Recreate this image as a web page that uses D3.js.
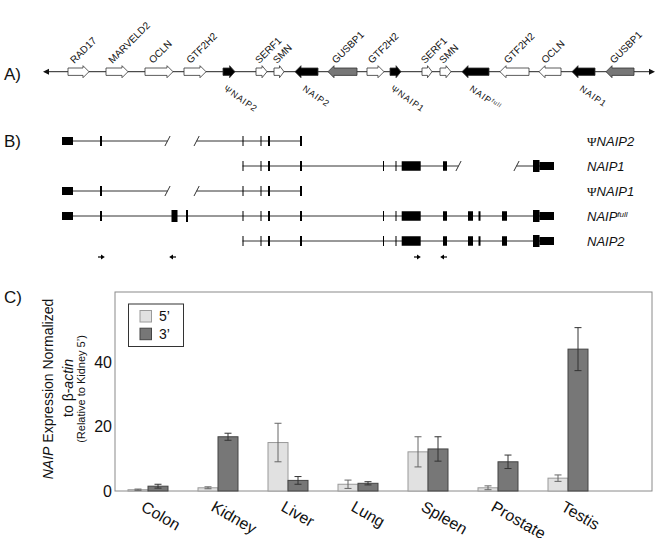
<!DOCTYPE html>
<html><head><meta charset="utf-8">
<script src="https://cdn.jsdelivr.net/npm/d3@7"></script>
<style>
body{margin:0;background:#fff}
svg{display:block;font-family:"Liberation Sans",Arial,sans-serif}
</style>
</head><body>
<svg id="fig" width="661" height="538"></svg>
<script>
// ---------- Panel A: genomic map (map units along the locus) ----------
const geneNames  = ["RAD17","MARVELD2","OCLN","GTF2H2","ΨNAIP2","SERF1","SMN","NAIP2","GUSBP1","GTF2H2","ΨNAIP1","SERF1","SMN","NAIPfull","GTF2H2","OCLN","NAIP1","GUSBP1"];
const geneStart  = [25, 63, 102, 141, 180, 213, 231, 252, 285, 324, 347, 379, 397, 419, 457, 496, 529, 563];
const geneEnd    = [46, 85, 130, 163, 192, 224, 241, 275, 314, 341, 358, 389, 408, 446, 486, 518, 552, 591];
const geneStrand = [1, 1, 1, 1, 1, 1, 1, -1, -1, 1, 1, 1, 1, -1, -1, -1, -1, -1];
const geneClass  = ["o","o","o","o","n","o","o","n","g","o","n","o","o","n","o","o","n","g"];
const locusExtent = [0, 612];

// ---------- Panel B: transcript structures (map units) ----------
const exonStart = [0, 38, 109.5, 124, 180.5, 198.5, 206, 238, 321, 333.5, 339.7, 381, 406, 416.5, 440, 471, 477.5];
const exonEnd   = [11, 40, 115.5, 126, 181.5, 199.5, 208, 240, 322, 334.5, 358.7, 385, 411, 418.5, 445, 477.5, 492];
const exonKind  = ["u","t","L","L","t","t","t","t","t","t","b","b","b","b","b","L","u"];
const transcriptNames = ["ΨNAIP2","NAIP1","ΨNAIP1","NAIPfull","NAIP2"];
const transcriptExons = [
  [0,1,4,5,6,7],
  [4,5,6,7,8,9,10,11,15,16],
  [0,1,4,5,6,7],
  [0,1,2,3,4,5,6,7,8,9,10,11,12,13,14,15,16],
  [4,5,6,7,8,9,10,11,12,13,14,15,16]
];
const transcriptSpan = [[0,240],[180.5,492],[0,240],[0,492],[180.5,492]];
const transcriptGap  = [[105.5,134.6],[396.5,454.5],[105.5,134.6],null,null];
const primerPos = [39, 111, 355, 382];
const primerDir = [1, -1, 1, -1];
const transcriptExtent = [0, 500];

// ---------- Panel C: expression bar chart ----------
const categories = ["Colon","Kidney","Liver","Lung","Spleen","Prostate","Testis"];
const seriesNames = ["5’","3’"];
const values5 = [0.4, 1.0, 15.1, 2.1, 12.2, 1.0, 4.0];
const err5    = [0.2, 0.3, 6.0, 1.3, 4.7, 0.6, 1.0];
const values3 = [1.5, 16.9, 3.3, 2.4, 13.1, 9.1, 44.2];
const err3    = [0.6, 1.1, 1.2, 0.5, 3.8, 2.1, 6.7];
const yTicks  = [0, 20, 40];
const yMax = 62;

const svg = d3.select("#fig");

function writeLabel(sel, name, opts) {
  let rest = name;
  if (rest.startsWith("Ψ")) {
    sel.append("tspan").attr("font-family", opts.psiFont || null).attr("font-style","normal").text("Ψ");
    rest = rest.slice(1);
  }
  if (rest.endsWith("full")) {
    sel.append("tspan").attr("font-style", opts.italic ? "italic" : "normal").text(rest.slice(0,-4));
    sel.append("tspan").attr("font-size", opts.supSize).attr("dy", opts.supDy).attr("font-style", opts.italic ? "italic":"normal").text("full");
  } else {
    sel.append("tspan").attr("font-style", opts.italic ? "italic" : "normal").text(rest);
  }
}

// ===== Panel labels =====
[["A)",80],["B)",147],["C)",303]].forEach(([t,yy]) => {
  svg.append("text").attr("x",4).attr("y",yy).attr("font-size",17).attr("fill","#111").text(t);
});

// ===== Panel A =====
const xA = d3.scaleLinear().domain(locusExtent).range([43, 655]);
const yA = 71.7;
const gA = svg.append("g");
gA.append("line").attr("x1", xA(locusExtent[0])+4).attr("x2", xA(locusExtent[1])-4)
  .attr("y1", yA).attr("y2", yA).attr("stroke","#222").attr("stroke-width",1);
gA.append("path").attr("d", `M${xA(locusExtent[0])},${yA}l6,-3v6z`).attr("fill","#111");
gA.append("path").attr("d", `M${xA(locusExtent[1])},${yA}l-6,-3v6z`).attr("fill","#111");

function geneArrow(a, b, dir, yy) {
  const h = 3.7, H = 6, head = Math.min(6, (b-a)*0.45);
  if (dir > 0) return `M${a},${yy-h}L${b-head},${yy-h}L${b-head},${yy-H}L${b},${yy}L${b-head},${yy+H}L${b-head},${yy+h}L${a},${yy+h}Z`;
  return `M${b},${yy-h}L${a+head},${yy-h}L${a+head},${yy-H}L${a},${yy}L${a+head},${yy+H}L${a+head},${yy+h}L${b},${yy+h}Z`;
}
const fillA = {o:"#fff", n:"#000", g:"#777"};
const genes = geneNames.map((n,i)=>({name:n, s:geneStart[i], e:geneEnd[i], dir:geneStrand[i], cls:geneClass[i]}));
gA.selectAll("path.gene").data(genes).join("path").attr("class","gene")
  .attr("d", d => geneArrow(xA(d.s), xA(d.e), d.dir, yA))
  .attr("fill", d => fillA[d.cls]).attr("stroke","#333").attr("stroke-width",0.8);

genes.filter(d => d.cls !== "n").forEach(d => {
  const w = xA(d.e) - xA(d.s);
  const x = xA(d.s) + Math.min(8, w*0.3);
  gA.append("text").attr("transform", `translate(${x},64) rotate(-45)`)
    .attr("font-size", 10).attr("fill","#111").text(d.name);
});
genes.filter(d => d.cls === "n").forEach(d => {
  const x = xA(d.s) + (d.dir > 0 ? 0 : 7);
  const t = gA.append("text").attr("transform", `translate(${x},90) rotate(35)`)
    .attr("font-size", 9).attr("letter-spacing", 0.9).attr("fill","#111");
  writeLabel(t, d.name, {italic:false, supSize:6, supDy:-3});
});

// ===== Panel B =====
const xB = d3.scaleLinear().domain(transcriptExtent).range([62, 562]);
const yB = d3.scalePoint().domain(transcriptNames).range([141, 241]);
const exonH = {u:8, t:10, b:9.5, L:12};
const gB = svg.append("g");
transcriptNames.forEach((name, r) => {
  const yy = yB(name);
  const [s, e] = transcriptSpan[r];
  const gap = transcriptGap[r];
  const lineSegs = gap ? [[s, gap[0]], [gap[1], e]] : [[s, e]];
  lineSegs.forEach(([a,b]) => {
    gB.append("line").attr("x1", xB(a)).attr("x2", xB(b)).attr("y1", yy).attr("y2", yy)
      .attr("stroke","#333").attr("stroke-width",1);
  });
  if (gap) {
    gap.forEach(g => {
      gB.append("line").attr("x1", xB(g)-2.6).attr("x2", xB(g)+2.6).attr("y1", yy+5).attr("y2", yy-5)
        .attr("stroke","#333").attr("stroke-width",1);
    });
  }
  gB.selectAll(null).data(transcriptExons[r]).join("rect")
    .attr("x", i => xB(exonStart[i]))
    .attr("width", i => Math.max(1, xB(exonEnd[i]) - xB(exonStart[i])))
    .attr("y", i => yy - exonH[exonKind[i]]/2)
    .attr("height", i => exonH[exonKind[i]])
    .attr("fill","#000");
  const t = gB.append("text").attr("x", 587).attr("y", yy+4.5).attr("font-size", 13).attr("fill","#111");
  writeLabel(t, name, {italic:true, psiFont:"Liberation Serif, Times New Roman, serif", supSize:8, supDy:-4});
});
const yPrim = 257;
primerPos.forEach((p,i) => {
  const x = xB(p), d = primerDir[i];
  gB.append("line").attr("x1", x - d*3).attr("x2", x).attr("y1", yPrim).attr("y2", yPrim).attr("stroke","#000").attr("stroke-width",1.2);
  gB.append("path").attr("d", `M${x},${yPrim-2.6}L${x+d*3.8},${yPrim}L${x},${yPrim+2.6}Z`).attr("fill","#000");
});

// ===== Panel C =====
const pL = 115, pR = 652, pT = 292, pB = 491;
const xc0 = d3.scaleBand().domain(categories).range([113, 603]).padding(0);
const xc1 = d3.scaleBand().domain(seriesNames).range([15, 55]).padding(0);
const yc = d3.scaleLinear().domain([0, yMax]).range([pB, pT]);
const gC = svg.append("g");
gC.append("rect").attr("x", pL).attr("y", pT).attr("width", pR-pL).attr("height", pB-pT)
  .attr("fill","none").attr("stroke","#8a8a8a").attr("stroke-width",1);

const barData = [];
categories.forEach((c,i) => {
  barData.push({c, s:seriesNames[0], v:values5[i], e:err5[i]});
  barData.push({c, s:seriesNames[1], v:values3[i], e:err3[i]});
});
const barFill = {"5’":"#e1e1e1", "3’":"#777777"};
const barStroke = {"5’":"#9a9a9a", "3’":"#444"};
const errStroke = {"5’":"#666", "3’":"#333"};
const bx = d => xc0(d.c) + xc1(d.s);
gC.selectAll("rect.bar").data(barData).join("rect").attr("class","bar")
  .attr("x", bx).attr("width", xc1.bandwidth())
  .attr("y", d => yc(d.v)).attr("height", d => yc(0) - yc(d.v))
  .attr("fill", d => barFill[d.s]).attr("stroke", d => barStroke[d.s]).attr("stroke-width",1);

const eb = gC.selectAll("g.err").data(barData).join("g").attr("class","err")
  .attr("stroke", d => errStroke[d.s]).attr("stroke-width",1);
const cx = d => bx(d) + xc1.bandwidth()/2;
eb.append("line").attr("x1", cx).attr("x2", cx)
  .attr("y1", d => yc(d.v + d.e)).attr("y2", d => yc(Math.max(0, d.v - d.e)));
eb.append("line").attr("x1", d => cx(d)-3.5).attr("x2", d => cx(d)+3.5)
  .attr("y1", d => yc(d.v + d.e)).attr("y2", d => yc(d.v + d.e));
eb.append("line").attr("x1", d => cx(d)-3.5).attr("x2", d => cx(d)+3.5)
  .attr("y1", d => yc(Math.max(0, d.v - d.e))).attr("y2", d => yc(Math.max(0, d.v - d.e)));

const yAxis = gC.append("g").attr("transform", `translate(${pL},0)`)
  .call(d3.axisLeft(yc).tickValues(yTicks).tickSize(0).tickPadding(3));
yAxis.select(".domain").remove();
yAxis.selectAll("text").attr("font-size", 16).attr("font-family", "Liberation Sans, Arial, sans-serif").attr("fill","#111");

gC.selectAll("text.cat").data(categories).join("text").attr("class","cat")
  .attr("transform", c => `translate(${xc0(c) + xc0.bandwidth()/2 - 8},510) rotate(30)`)
  .attr("font-size", 16).attr("fill","#111").text(c => c);

const lg = gC.append("g");
lg.append("rect").attr("x",128.5).attr("y",304).attr("width",55).attr("height",42.5)
  .attr("fill","#fff").attr("stroke","#333").attr("stroke-width",1);
seriesNames.forEach((s,i) => {
  const yy = 310.5 + i*17.7;
  lg.append("rect").attr("x",140).attr("y",yy).attr("width",11.5).attr("height",11.5)
    .attr("fill", barFill[s]).attr("stroke", barStroke[s]).attr("stroke-width",1);
  lg.append("text").attr("x",159).attr("y",yy+10.5).attr("font-size",14).attr("fill","#111").text(s);
});

const t1 = svg.append("text").attr("transform","translate(48,389) rotate(-90)").attr("text-anchor","middle")
  .attr("dy","0.35em").attr("font-size",14).attr("fill","#111");
t1.append("tspan").attr("font-style","italic").text("NAIP");
t1.append("tspan").text(" Expression Normalized");
const t2 = svg.append("text").attr("transform","translate(68,388) rotate(-90)").attr("text-anchor","middle")
  .attr("dy","0.35em").attr("font-size",14).attr("fill","#111");
t2.append("tspan").text("to β-");
t2.append("tspan").attr("font-style","italic").text("actin");
svg.append("text").attr("transform","translate(81,389) rotate(-90)").attr("text-anchor","middle")
  .attr("dy","0.35em").attr("font-size",11).attr("fill","#111").text("(Relative to Kidney 5’)");
</script>
</body></html>
